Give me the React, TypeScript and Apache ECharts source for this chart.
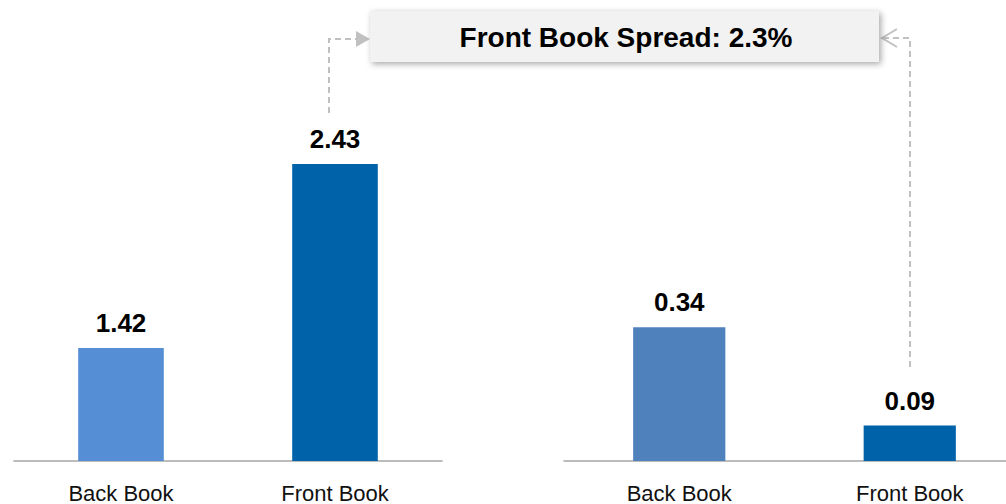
import React, { useEffect, useRef } from "react";
import * as echarts from "echarts";

const categories = ["Back Book", "Front Book"];
const leftValues = [1.42, 2.43];
const rightValues = [0.34, 0.09];
const leftColors = ["#558ed5", "#0062a8"];
const rightColors = ["#4f81bd", "#0062a8"];
const calloutText = "Front Book Spread: 2.3%";

const FONT = "'Liberation Sans', Arial, sans-serif";
const DASH = "#c0c0c0";

export default function App() {
  const ref = useRef<HTMLDivElement>(null);
  useEffect(() => {
    if (!ref.current) return;
    const chart = echarts.init(ref.current, undefined, { renderer: "svg" });
    const xAxisBase = {
      type: "category" as const,
      data: categories,
      axisLine: { show: true, lineStyle: { color: "#a6a6a6", width: 1.5 } },
      axisTick: { show: false },
      axisLabel: { color: "#111", fontSize: 22, fontFamily: FONT, margin: 21 },
    };
    const labelBase = {
      show: true,
      position: "top" as const,
      distance: 12,
      color: "#000",
      fontSize: 26,
      fontWeight: "bold" as const,
      fontFamily: FONT,
      formatter: (p: any) => p.value.toFixed(2),
    };
    chart.setOption({
      animation: false,
      grid: [
        { left: 14, top: 60, width: 428, height: 401 },
        { left: 564, top: 60, width: 461, height: 401 },
      ],
      xAxis: [
        { ...xAxisBase, gridIndex: 0 },
        { ...xAxisBase, gridIndex: 1 },
      ],
      yAxis: [
        { type: "value", gridIndex: 0, min: 0.8, max: 3.0, show: false, splitLine: { show: false } },
        { type: "value", gridIndex: 1, min: 0, max: 1.02, show: false, splitLine: { show: false } },
      ],
      series: [
        {
          type: "bar",
          xAxisIndex: 0,
          yAxisIndex: 0,
          barWidth: "40%",
          data: leftValues.map((v, i) => ({ value: v, itemStyle: { color: leftColors[i] } })),
          label: labelBase,
        },
        {
          type: "bar",
          xAxisIndex: 1,
          yAxisIndex: 1,
          barWidth: "40%",
          data: rightValues.map((v, i) => ({ value: v, itemStyle: { color: rightColors[i] } })),
          label: labelBase,
        },
      ],
      graphic: [
        {
          type: "rect",
          shape: { x: 370, y: 11, width: 509, height: 51 },
          style: {
            fill: "#f2f2f2",
            shadowBlur: 6,
            shadowColor: "rgba(0,0,0,0.35)",
            shadowOffsetX: 2,
            shadowOffsetY: 2,
          },
          z: 10,
        },
        {
          type: "text",
          x: 626,
          y: 37,
          style: {
            text: calloutText,
            fill: "#000",
            font: `bold 28px ${FONT}`,
            align: "center",
            verticalAlign: "middle",
          },
          z: 11,
        },
        {
          type: "polyline",
          shape: { points: [[329, 113], [329, 39], [358, 39]] },
          style: { stroke: DASH, lineWidth: 2, lineDash: [6, 4], fill: null },
          z: 5,
        },
        {
          type: "polygon",
          shape: { points: [[356, 31], [370, 39], [356, 47]] },
          style: { fill: DASH },
          z: 5,
        },
        {
          type: "polyline",
          shape: { points: [[910, 367], [910, 38], [884, 38]] },
          style: { stroke: DASH, lineWidth: 2, lineDash: [6, 4], fill: null },
          z: 5,
        },
        {
          type: "polyline",
          shape: { points: [[897, 29], [882, 38], [897, 47]] },
          style: { stroke: DASH, lineWidth: 2, fill: null },
          z: 5,
        },
      ],
    });
    return () => chart.dispose();
  }, []);
  return (
    <div
      style={{
        position: "fixed",
        left: 0,
        top: 0,
        width: 1006,
        height: 504,
        overflow: "hidden",
        background: "#fff",
      }}
    >
      <div ref={ref} style={{ width: 1040, height: 504 }} />
    </div>
  );
}
